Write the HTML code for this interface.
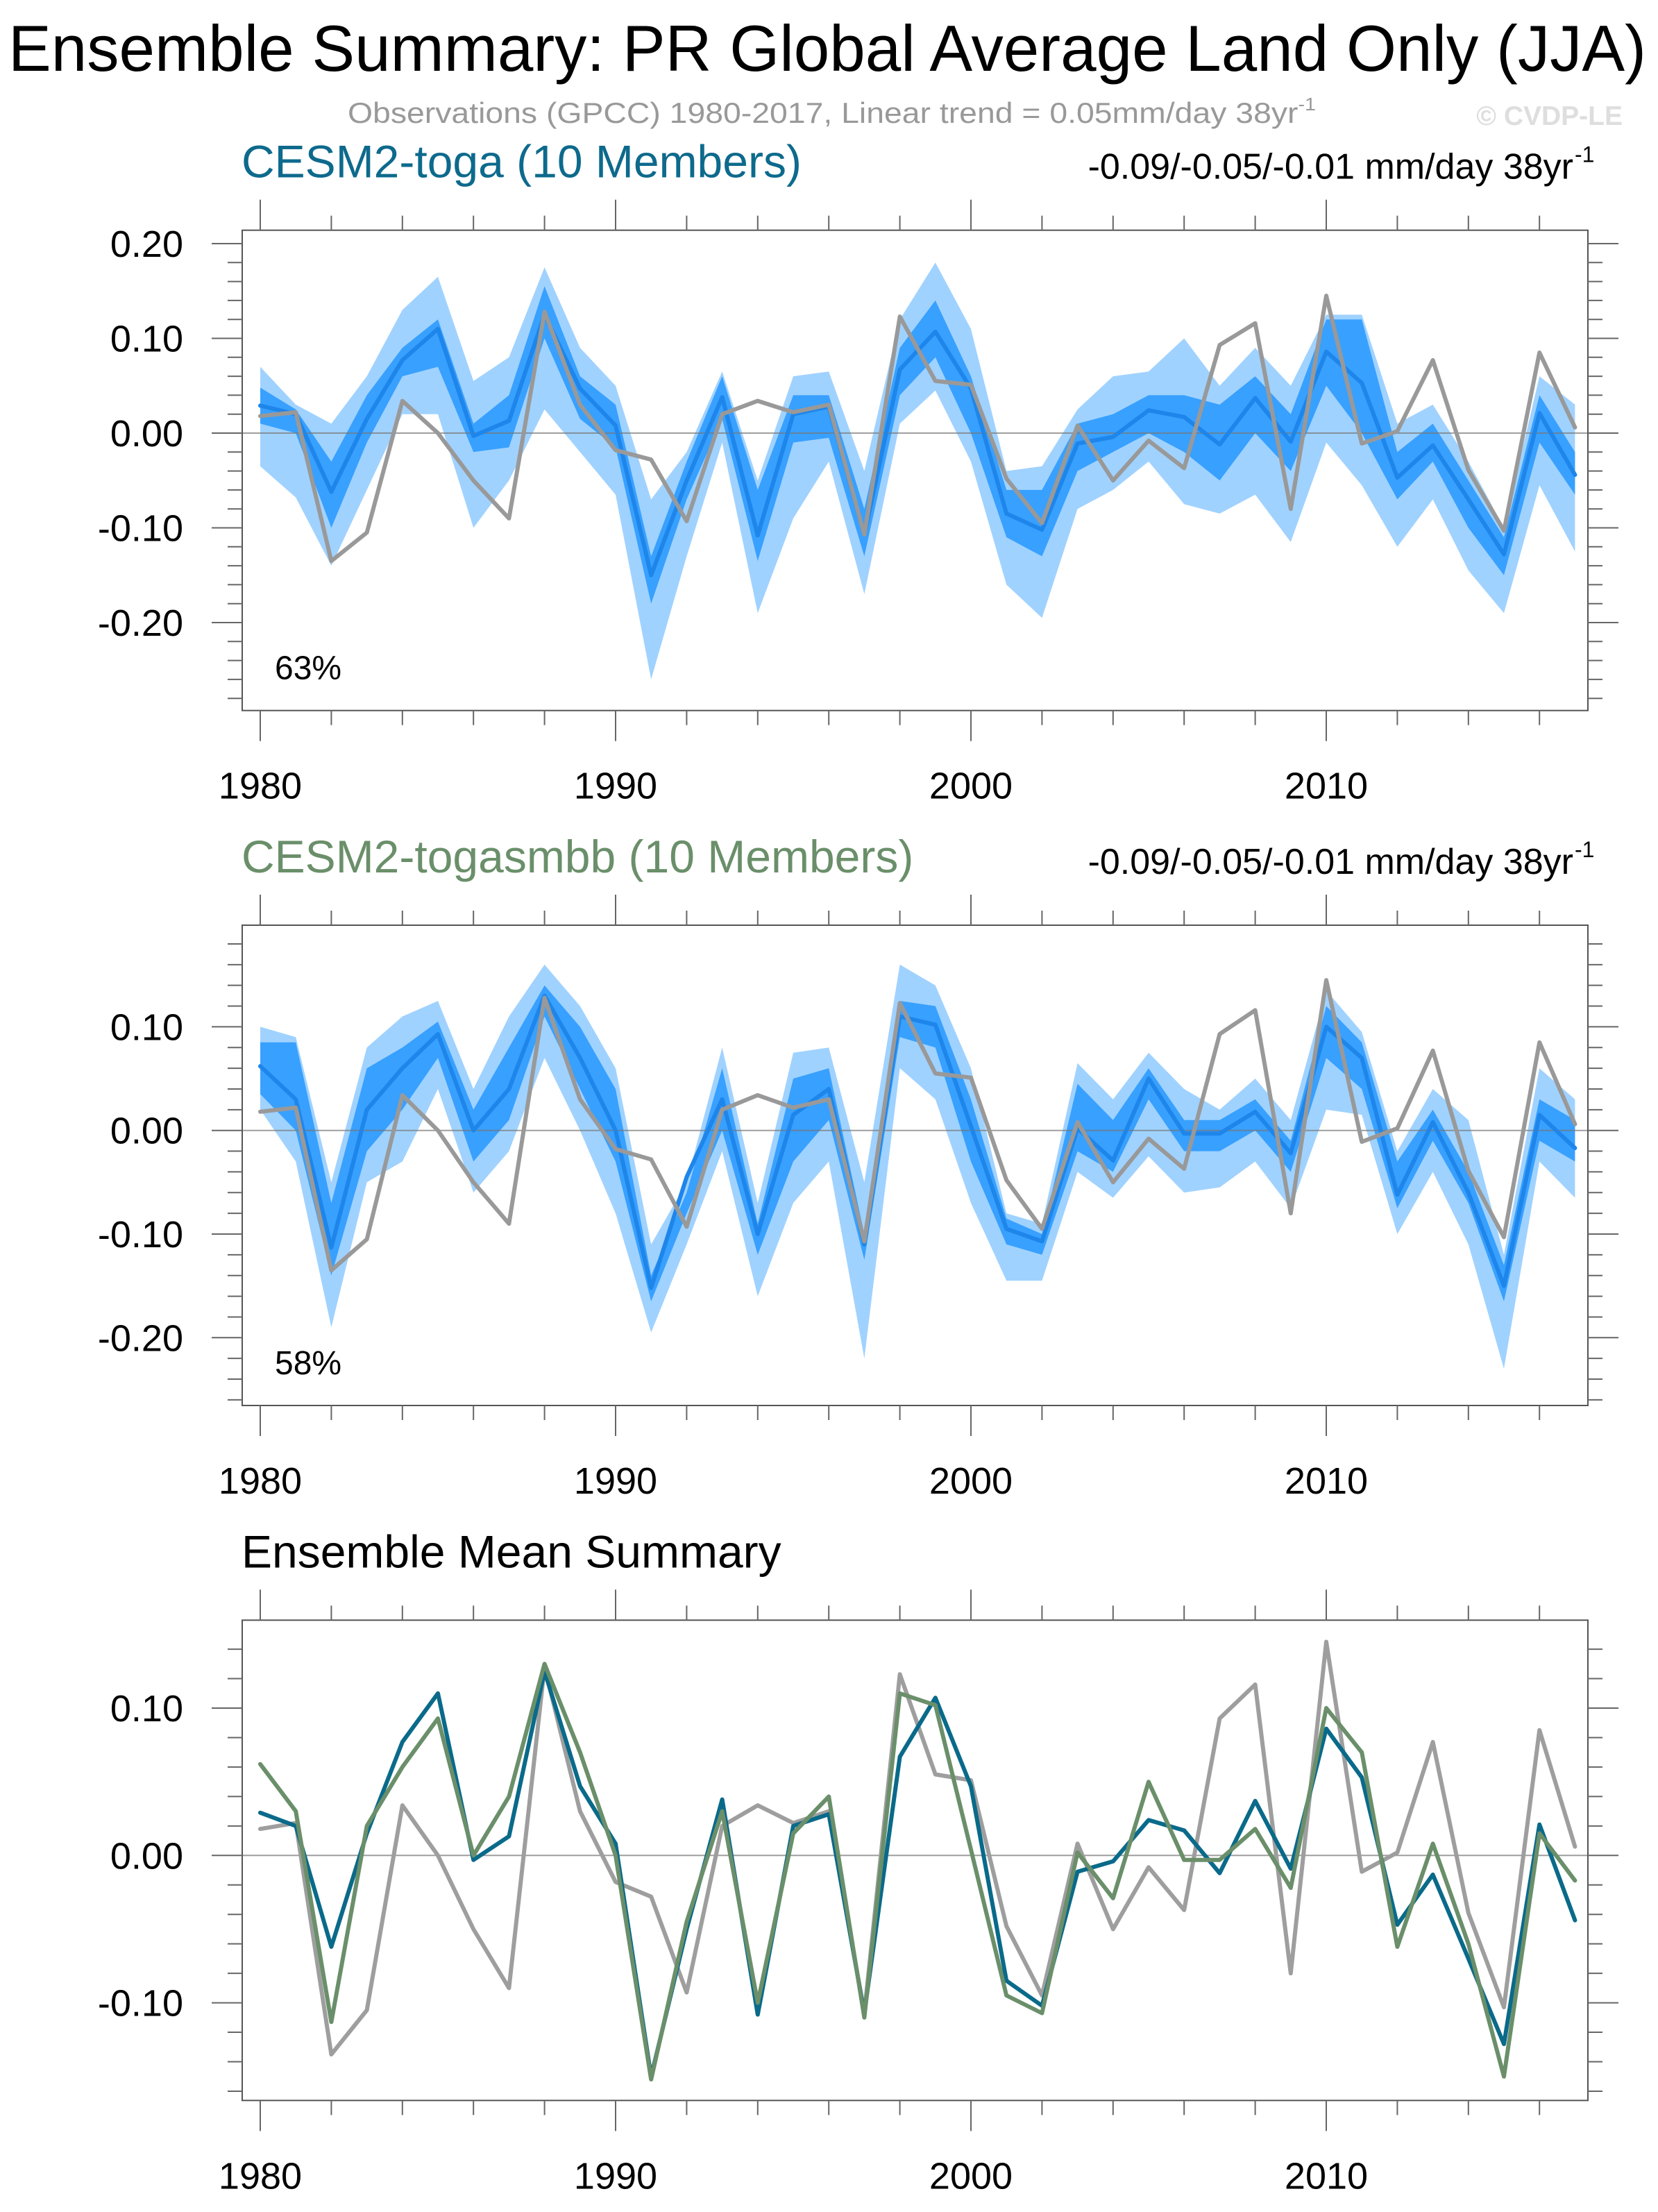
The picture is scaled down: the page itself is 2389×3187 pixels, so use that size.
<!DOCTYPE html>
<html><head><meta charset="utf-8"><style>
html,body{margin:0;padding:0;background:#fff}
svg{display:block}
text{font-family:"Liberation Sans",Arial,sans-serif}
</style></head><body>
<svg id="chart" xmlns="http://www.w3.org/2000/svg" width="2389" height="3187" viewBox="0 0 2389 3187">
<text x="1192" y="102" font-size="94" text-anchor="middle" textLength="2360" lengthAdjust="spacingAndGlyphs">Ensemble Summary: PR Global Average Land Only (JJA)</text>
<text x="501" y="177" font-size="42" fill="#999" textLength="1395" lengthAdjust="spacingAndGlyphs">Observations (GPCC) 1980-2017, Linear trend = 0.05mm/day 38yr<tspan font-size="26" dy="-18">-1</tspan></text>
<text x="2338" y="180" font-size="39" font-weight="bold" fill="#dedede" text-anchor="end">© CVDP-LE</text>
<g id="p1"></g><g id="p2"></g><g id="p3"></g>
</svg>
<script>
const years = [1980,1981,1982,1983,1984,1985,1986,1987,1988,1989,1990,1991,1992,1993,1994,1995,1996,1997,1998,1999,2000,2001,2002,2003,2004,2005,2006,2007,2008,2009,2010,2011,2012,2013,2014,2015,2016,2017];
const obs = [0.018,0.022,-0.135,-0.105,0.034,0.0,-0.05,-0.09,0.128,0.03,-0.018,-0.028,-0.093,0.02,0.034,0.022,0.03,-0.107,0.123,0.055,0.051,-0.048,-0.095,0.008,-0.05,-0.008,-0.037,0.093,0.116,-0.08,0.145,-0.011,0.002,0.077,-0.039,-0.103,0.085,0.006];
const togaMean = [0.029,0.02,-0.062,0.015,0.077,0.11,-0.003,0.013,0.125,0.047,0.008,-0.15,-0.05,0.038,-0.108,0.02,0.028,-0.107,0.067,0.107,0.047,-0.085,-0.102,-0.011,-0.004,0.024,0.017,-0.012,0.037,-0.009,0.086,0.053,-0.047,-0.013,-0.07,-0.128,0.021,-0.044];
const smbbMean = [0.062,0.03,-0.113,0.02,0.06,0.093,0.0,0.04,0.13,0.07,0.0,-0.152,-0.045,0.03,-0.1,0.015,0.04,-0.11,0.11,0.102,0.004,-0.095,-0.107,0.002,-0.029,0.05,-0.003,-0.003,0.018,-0.022,0.1,0.07,-0.062,0.008,-0.06,-0.15,0.015,-0.017];
const togaOuterHi = [0.07,0.03,0.01,0.06,0.13,0.165,0.055,0.08,0.175,0.09,0.05,-0.07,-0.02,0.065,-0.05,0.06,0.065,-0.04,0.12,0.18,0.11,-0.04,-0.035,0.025,0.06,0.065,0.1,0.05,0.09,0.05,0.125,0.125,0.01,0.03,-0.03,-0.1,0.06,0.03];
const togaOuterLo = [-0.035,-0.068,-0.14,-0.06,0.02,0.02,-0.1,-0.05,0.025,-0.02,-0.065,-0.26,-0.13,-0.01,-0.19,-0.09,-0.03,-0.17,0.01,0.045,-0.03,-0.16,-0.195,-0.08,-0.06,-0.03,-0.075,-0.085,-0.065,-0.115,-0.01,-0.055,-0.12,-0.07,-0.145,-0.19,-0.055,-0.125];
const togaInnerHi = [0.048,0.025,-0.03,0.04,0.09,0.12,0.01,0.04,0.155,0.06,0.03,-0.13,-0.03,0.06,-0.06,0.04,0.04,-0.08,0.09,0.14,0.06,-0.06,-0.06,0.01,0.02,0.04,0.04,0.03,0.06,0.02,0.12,0.12,-0.02,0.01,-0.05,-0.11,0.04,-0.02];
const togaInnerLo = [0.01,0.0,-0.1,-0.01,0.06,0.07,-0.02,-0.015,0.1,0.015,-0.015,-0.18,-0.07,0.015,-0.135,-0.01,-0.005,-0.13,0.04,0.08,0.0,-0.11,-0.13,-0.04,-0.02,0.0,-0.02,-0.05,0.0,-0.04,0.05,0.0,-0.07,-0.03,-0.1,-0.15,-0.01,-0.065];
const smbbOuterHi = [0.1,0.09,-0.05,0.08,0.11,0.125,0.04,0.11,0.16,0.12,0.06,-0.11,-0.05,0.08,-0.07,0.075,0.08,-0.05,0.16,0.14,0.06,-0.08,-0.09,0.065,0.03,0.075,0.04,0.02,0.05,0.01,0.135,0.095,-0.02,0.04,0.01,-0.12,0.06,0.03];
const smbbOuterLo = [0.02,-0.03,-0.19,-0.05,-0.03,0.04,-0.06,-0.02,0.07,0.0,-0.08,-0.195,-0.11,-0.02,-0.16,-0.07,-0.03,-0.22,0.06,0.03,-0.07,-0.145,-0.145,-0.04,-0.065,-0.025,-0.06,-0.055,-0.03,-0.075,0.02,0.015,-0.1,-0.04,-0.11,-0.23,-0.03,-0.065];
const smbbInnerHi = [0.085,0.085,-0.07,0.06,0.08,0.105,0.02,0.08,0.14,0.1,0.04,-0.14,-0.06,0.06,-0.09,0.05,0.06,-0.1,0.125,0.12,0.03,-0.085,-0.1,0.045,0.01,0.06,0.01,0.01,0.03,-0.01,0.12,0.085,-0.03,0.02,-0.04,-0.13,0.03,0.01];
const smbbInnerLo = [0.035,0.0,-0.14,-0.02,0.02,0.07,-0.03,0.01,0.11,0.04,-0.03,-0.165,-0.08,0.0,-0.12,-0.03,0.01,-0.125,0.09,0.08,-0.03,-0.11,-0.12,-0.02,-0.04,0.03,-0.02,-0.02,0.0,-0.04,0.07,0.04,-0.075,-0.01,-0.07,-0.165,-0.01,-0.03];
const xTickLabels = [1980,1990,2000,2010];
const yTicks1 = [0.20,0.10,0.00,-0.10,-0.20];
const yTicks2 = [0.10,0.00,-0.10,-0.20];
const yTicks3 = [0.10,0.00,-0.10];

const NS = "http://www.w3.org/2000/svg";
const L = 349, R = 2288;
function xs(yr){ return 375 + (yr - 1980) * 51.2; }
function mk(parent, tag, attrs){
  const e = document.createElementNS(NS, tag);
  for (const k in attrs) e.setAttribute(k, attrs[k]);
  parent.appendChild(e); return e;
}
function panel(gid, top, bottom, zeroY, unit, yTicks, cfg){
  const g = document.getElementById(gid);
  const ys = v => zeroY - v * unit;
  const vTop = (zeroY - top) / unit, vBot = (zeroY - bottom) / unit;
  function band(hi, lo, color, name){
    let d = "";
    years.forEach((y,i)=>{ d += (i? "L":"M") + xs(y).toFixed(1) + "," + ys(hi[i]).toFixed(1); });
    for (let i = years.length-1; i >= 0; i--) d += "L" + xs(years[i]).toFixed(1) + "," + ys(lo[i]).toFixed(1);
    const p = mk(g, "path", {d: d + "Z", fill: color});
    
    
  }
  if (cfg.bands){
    band(cfg.bands[0], cfg.bands[1], "#a0d2ff", cfg.prefix + "-spread-band");
    band(cfg.bands[2], cfg.bands[3], "#38a0ff", cfg.prefix + "-interquartile-band");
  }
  const z = mk(g, "line", {x1: L, x2: R, y1: ys(0), y2: ys(0), stroke: "#777", "stroke-width": 2, opacity: 0.7});
  
  
  function line(vals, color, name){
    const pts = years.map((y,i)=> xs(y).toFixed(1) + "," + ys(vals[i]).toFixed(1)).join(" ");
    const p = mk(g, "polyline", {points: pts, fill: "none", stroke: color, "stroke-width": 6, "stroke-linejoin": "round", "stroke-linecap": "round"});
    
    
  }
  cfg.lines.forEach(l => line(l[0], l[1], l[2]));
  const f = mk(g, "rect", {x: L, y: top, width: R-L, height: bottom-top, fill: "none", stroke: "#555", "stroke-width": 2});
  
  
  const ax = mk(g, "g", {stroke: "#666", "stroke-width": 2});
  
  
  for (let k = Math.ceil(vBot*50 - 1e-6); k <= Math.floor(vTop*50 + 1e-6); k++){
    const v = k/50, yy = ys(v), major = (k % 5 === 0);
    const len = major ? 44 : 21;
    mk(ax, "line", {x1: L-len, x2: L, y1: yy, y2: yy});
    mk(ax, "line", {x1: R, x2: R+len, y1: yy, y2: yy});
  }
  for (let yr = 1980; yr <= 2018; yr += 2){
    const xx = xs(yr); if (xx > R) break;
    const len = (yr % 10 === 0) ? 44 : 21;
    mk(ax, "line", {x1: xx, x2: xx, y1: top-len, y2: top});
    mk(ax, "line", {x1: xx, x2: xx, y1: bottom, y2: bottom+len});
  }
  yTicks.forEach(v => {
    const t = mk(g, "text", {x: 264, y: ys(v) + 19, "font-size": 54, "text-anchor": "end"});
    t.textContent = v.toFixed(2);
    
    
  });
  xTickLabels.forEach(yr => {
    const t = mk(g, "text", {x: xs(yr), y: bottom + 127, "font-size": 54, "text-anchor": "middle"});
    t.textContent = yr;
    
    
  });
  const ti = mk(g, "text", {x: 348, y: top - 76, "font-size": 66, fill: cfg.titleColor});
  ti.textContent = cfg.title;
  
  
  if (cfg.trend){
    const tr = mk(g, "text", {x: 2267, y: top - 74, "font-size": 52, "text-anchor": "end"});
    tr.textContent = cfg.trend;
    
    
    const sup = mk(g, "text", {x: 2269, y: top - 98, "font-size": 32});
    sup.textContent = "-1";
    
    
  }
  if (cfg.pct){
    const pc = mk(g, "text", {x: 396, y: bottom - 45, "font-size": 48});
    pc.textContent = cfg.pct;
    
    
  }
}
panel("p1", 331.7, 1023.7, 624, 1365, yTicks1, {
  prefix: "cesm2-toga", title: "CESM2-toga (10 Members)", titleColor: "#0d6a8c",
  trend: "-0.09/-0.05/-0.01 mm/day 38yr", pct: "63%",
  bands: [togaOuterHi, togaOuterLo, togaInnerHi, togaInnerLo],
  lines: [[togaMean, "#1e86ea", "toga-ensemble-mean-line"], [obs, "#999", "observations-line"]]
});
panel("p2", 1333, 2025, 1628.7, 1493, yTicks2, {
  prefix: "cesm2-togasmbb", title: "CESM2-togasmbb (10 Members)", titleColor: "#6a8f6a",
  trend: "-0.09/-0.05/-0.01 mm/day 38yr", pct: "58%",
  bands: [smbbOuterHi, smbbOuterLo, smbbInnerHi, smbbInnerLo],
  lines: [[smbbMean, "#1e86ea", "togasmbb-ensemble-mean-line"], [obs, "#999", "observations-line"]]
});
panel("p3", 2334.3, 3026.3, 2673.3, 2123, yTicks3, {
  prefix: "ensemble-mean", title: "Ensemble Mean Summary", titleColor: "#000",
  lines: [[obs, "#9e9e9e", "observations-line"], [togaMean, "#0a6a8a", "toga-mean-line"], [smbbMean, "#6a8f6a", "togasmbb-mean-line"]]
});
</script>
</body></html>
